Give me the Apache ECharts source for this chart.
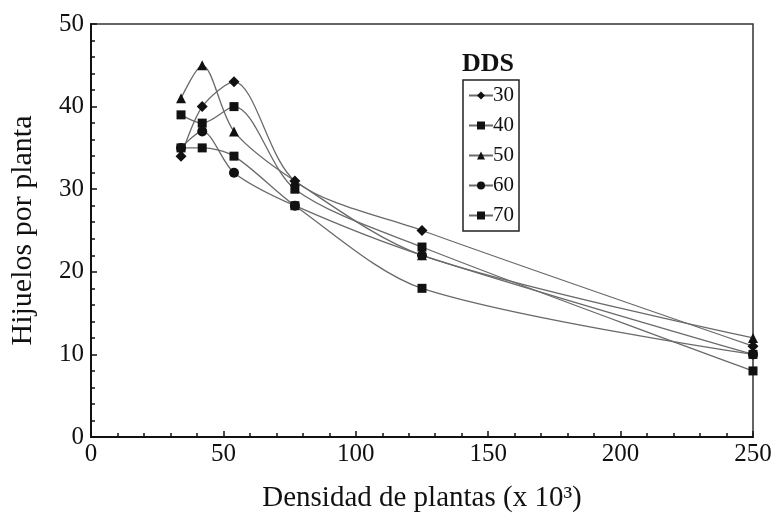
<!DOCTYPE html>
<html>
<head>
<meta charset="utf-8">
<script src="https://cdn.jsdelivr.net/npm/echarts@6/dist/echarts.min.js"></script>
<style>
html,body{margin:0;padding:0;background:#fff;}
#chart{width:776px;height:519px;}
</style>
</head>
<body>
<div id="chart"></div>
<script>
// Data
const densities = [34, 42, 54, 77, 125, 250];
const seriesNames = ['30', '40', '50', '60', '70'];
const dds30 = [34, 40, 43, 31, 25, 11];
const dds40 = [39, 38, 40, 30, 23, 8];
const dds50 = [41, 45, 37, 31, 22, 12];
const dds60 = [35, 37, 32, 28, 22, 10];
const dds70 = [35, 35, 34, 28, 18, 10];
const xTicks = [0, 50, 100, 150, 200, 250];
const yTicks = [0, 10, 20, 30, 40, 50];

const allValues = [dds30, dds40, dds50, dds60, dds70];
const symbols = ['diamond', 'rect', 'triangle', 'circle', 'rect'];
const symbolSizes = [11, 9, 10, 10, 9];
const font = "'Liberation Serif', 'Times New Roman', serif";

const chart = echarts.init(document.getElementById('chart'), null, {renderer: 'canvas'});

const series = seriesNames.map((name, i) => ({
  name: name,
  type: 'line',
  smooth: 0.3,
  data: densities.map((d, j) => [d, allValues[i][j]]),
  symbol: symbols[i],
  symbolSize: symbolSizes[i],
  showAllSymbol: true,
  itemStyle: {color: '#111'},
  lineStyle: {color: '#6a6a6a', width: 1.3},
  emphasis: {disabled: true},
  z: 3
}));

chart.setOption({
  animation: false,
  backgroundColor: '#fff',
  textStyle: {fontFamily: font},
  title: {
    text: 'DDS',
    left: 462,
    top: 51,
    padding: 0,
    textStyle: {fontFamily: font, fontWeight: 'bold', fontSize: 26, color: '#111'}
  },
  legend: {
    orient: 'vertical',
    left: 463,
    top: 80,
    selectedMode: false,
    data: seriesNames,
    itemWidth: 24,
    itemHeight: 10,
    itemGap: 9,
    padding: [5, 5, 5, 5],
    borderColor: '#222',
    borderWidth: 1.5,
    textStyle: {fontFamily: font, fontSize: 21, color: '#111', padding: [0, 0, 0, -5]}
  },
  grid: {
    left: 90, right: 23, top: 24, bottom: 82,
    show: true, borderColor: '#333', borderWidth: 1.5, backgroundColor: 'transparent'
  },
  xAxis: {
    type: 'value',
    min: xTicks[0],
    max: xTicks[xTicks.length - 1],
    interval: 50,
    name: 'Densidad de plantas (x 10³)',
    nameLocation: 'middle',
    nameGap: 47,
    nameTextStyle: {fontFamily: font, fontSize: 29, color: '#111'},
    axisLine: {show: true, lineStyle: {color: '#111', width: 2}},
    axisTick: {show: true, inside: true, length: 6, lineStyle: {color: '#111', width: 1.5}},
    minorTick: {show: true, splitNumber: 5, length: 4, lineStyle: {color: '#111', width: 1.5}},
    splitLine: {show: false},
    axisLabel: {fontFamily: font, fontSize: 25, color: '#111', margin: 5}
  },
  yAxis: {
    type: 'value',
    min: yTicks[0],
    max: yTicks[yTicks.length - 1],
    interval: 10,
    name: 'Hijuelos por planta',
    nameLocation: 'middle',
    nameGap: 53,
    nameTextStyle: {fontFamily: font, fontSize: 30, color: '#111'},
    axisLine: {show: true, lineStyle: {color: '#111', width: 2}},
    axisTick: {show: true, inside: true, length: 6, lineStyle: {color: '#111', width: 1.5}},
    minorTick: {show: true, splitNumber: 5, length: 4, lineStyle: {color: '#111', width: 1.5}},
    splitLine: {show: false},
    axisLabel: {fontFamily: font, fontSize: 25, color: '#111', margin: 7}
  },
  series: series
});
</script>
</body>
</html>
